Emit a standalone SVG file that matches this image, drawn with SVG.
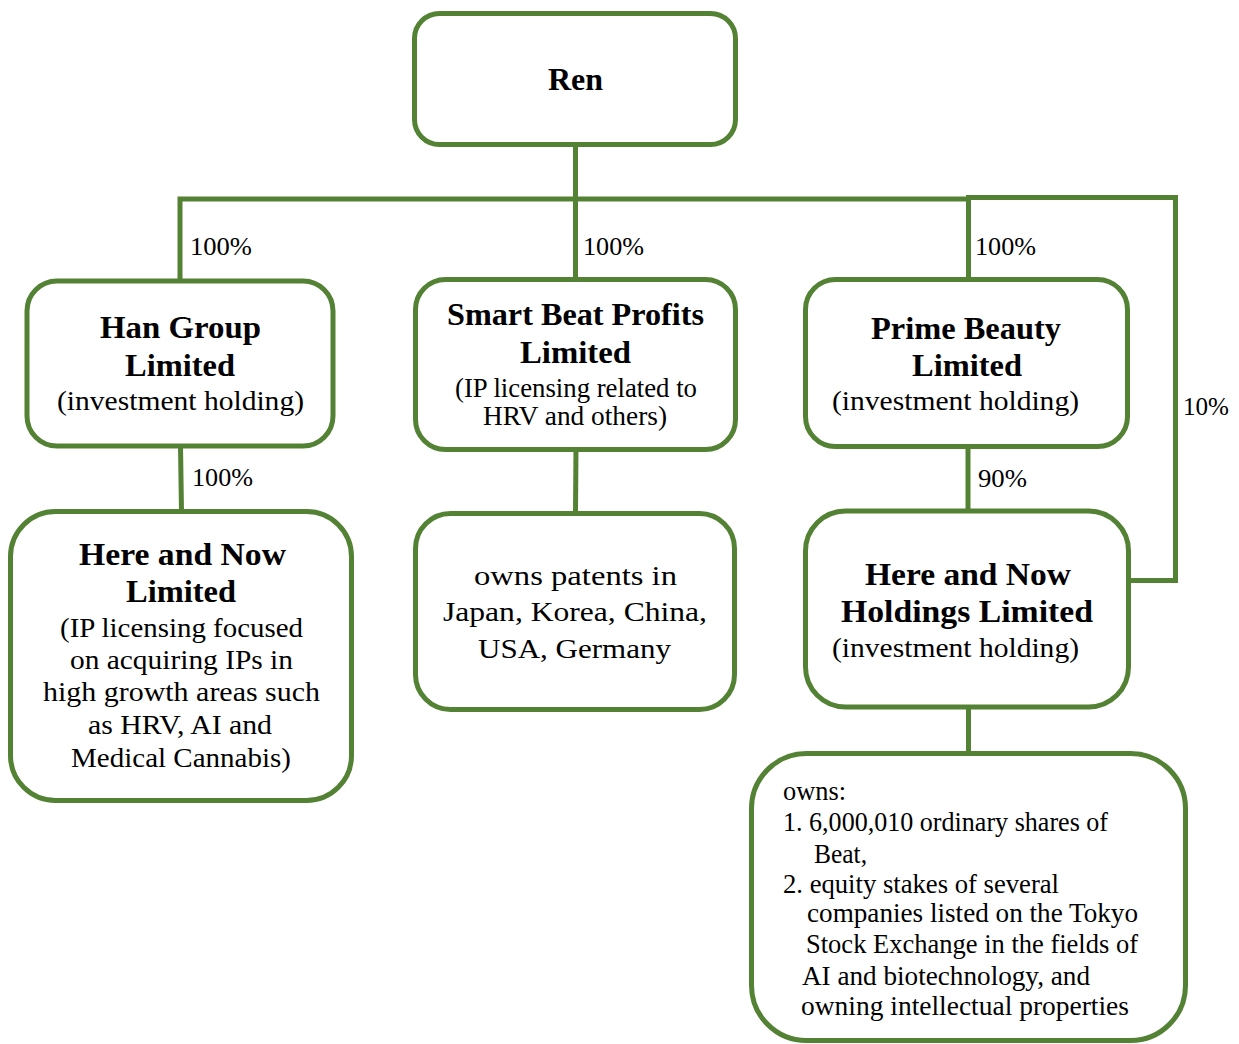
<svg xmlns="http://www.w3.org/2000/svg" width="1239" height="1044" viewBox="0 0 1239 1044">
<style>
.box{fill:#fff;stroke:#548235;stroke-width:5}
.ln{fill:none;stroke:#548235;stroke-width:5;stroke-linejoin:miter}
text{font-family:"Liberation Serif","Times New Roman",serif;fill:#000}
.b{font-weight:bold;font-size:31px}
.r{font-size:28px}
.p{font-size:26px}
.s{font-size:26.5px}
</style>
<rect width="1239" height="1044" fill="#fff"/>
<g id="connectors">
<path class="ln" d="M575.5,146 V199"/>
<path class="ln" d="M180,281 V199 H968.5 V281"/>
<path class="ln" d="M575.5,199 V280"/>
<path class="ln" d="M966,197.5 H1175.5 V580.5 H1131"/>
<path class="ln" d="M180.5,446 L181.5,512"/>
<path class="ln" d="M576,449 L575.5,513"/>
<path class="ln" d="M968,446 V511"/>
<path class="ln" d="M968.5,707 V754"/>
<text class="p" x="190" y="255" textLength="62" lengthAdjust="spacingAndGlyphs">100%</text>
<text class="p" x="583" y="255" textLength="61" lengthAdjust="spacingAndGlyphs">100%</text>
<text class="p" x="975" y="255" textLength="61" lengthAdjust="spacingAndGlyphs">100%</text>
<text class="p" x="192" y="486" textLength="61" lengthAdjust="spacingAndGlyphs">100%</text>
<text class="p" x="978" y="487" textLength="49" lengthAdjust="spacingAndGlyphs">90%</text>
<text class="p" x="1183" y="415" textLength="46" lengthAdjust="spacingAndGlyphs">10%</text>
</g>
<g id="ren">
<rect class="box" x="414.5" y="13.5" width="321" height="131" rx="25"/>
<text class="b" x="548" y="90" textLength="55" lengthAdjust="spacingAndGlyphs">Ren</text>
</g>
<g id="han-group">
<rect class="box" x="27" y="281" width="306" height="165" rx="30"/>
<text class="b" x="100" y="338" textLength="161" lengthAdjust="spacingAndGlyphs">Han Group</text>
<text class="b" x="125" y="376" textLength="110" lengthAdjust="spacingAndGlyphs">Limited</text>
<text class="r" x="57" y="410" textLength="247" lengthAdjust="spacingAndGlyphs">(investment holding)</text>
</g>
<g id="smart-beat">
<rect class="box" x="415.5" y="279.5" width="320" height="170" rx="30"/>
<text class="b" x="447" y="325" textLength="257" lengthAdjust="spacingAndGlyphs">Smart Beat Profits</text>
<text class="b" x="520" y="363" textLength="111" lengthAdjust="spacingAndGlyphs">Limited</text>
<text class="r" x="455" y="397" textLength="242" lengthAdjust="spacingAndGlyphs">(IP licensing related to</text>
<text class="r" x="483" y="425" textLength="184" lengthAdjust="spacingAndGlyphs">HRV and others)</text>
</g>
<g id="prime-beauty">
<rect class="box" x="805.5" y="279.5" width="322" height="167" rx="30"/>
<text class="b" x="871" y="339" textLength="190" lengthAdjust="spacingAndGlyphs">Prime Beauty</text>
<text class="b" x="912" y="376" textLength="110" lengthAdjust="spacingAndGlyphs">Limited</text>
<text class="r" x="832" y="410" textLength="247" lengthAdjust="spacingAndGlyphs">(investment holding)</text>
</g>
<g id="here-and-now-limited">
<rect class="box" x="10.5" y="511.5" width="341" height="289" rx="45"/>
<text class="b" x="79" y="565" textLength="207" lengthAdjust="spacingAndGlyphs">Here and Now</text>
<text class="b" x="126" y="602" textLength="110" lengthAdjust="spacingAndGlyphs">Limited</text>
<text class="r" x="60" y="637" textLength="243" lengthAdjust="spacingAndGlyphs">(IP licensing focused</text>
<text class="r" x="70" y="669" textLength="223" lengthAdjust="spacingAndGlyphs">on acquiring IPs in</text>
<text class="r" x="43" y="701" textLength="277" lengthAdjust="spacingAndGlyphs">high growth areas such</text>
<text class="r" x="88" y="734" textLength="184" lengthAdjust="spacingAndGlyphs">as HRV, AI and</text>
<text class="r" x="71" y="767" textLength="220" lengthAdjust="spacingAndGlyphs">Medical Cannabis)</text>
</g>
<g id="patents">
<rect class="box" x="415.5" y="513.5" width="319" height="196" rx="35"/>
<text class="r" x="474" y="585" textLength="203" lengthAdjust="spacingAndGlyphs">owns patents in</text>
<text class="r" x="443" y="621" textLength="264" lengthAdjust="spacingAndGlyphs">Japan, Korea, China,</text>
<text class="r" x="478" y="658" textLength="193" lengthAdjust="spacingAndGlyphs">USA, Germany</text>
</g>
<g id="here-and-now-holdings">
<rect class="box" x="805.5" y="511" width="323" height="196" rx="40"/>
<text class="b" x="865" y="585" textLength="206" lengthAdjust="spacingAndGlyphs">Here and Now</text>
<text class="b" x="841" y="622" textLength="252" lengthAdjust="spacingAndGlyphs">Holdings Limited</text>
<text class="r" x="832" y="657" textLength="247" lengthAdjust="spacingAndGlyphs">(investment holding)</text>
</g>
<g id="holdings-assets">
<rect class="box" x="751.5" y="753.5" width="434" height="287" rx="55"/>
<text class="s" x="783" y="800" textLength="63" lengthAdjust="spacingAndGlyphs">owns:</text>
<text class="s" x="783" y="831" textLength="325" lengthAdjust="spacingAndGlyphs">1. 6,000,010 ordinary shares of</text>
<text class="s" x="814" y="863" textLength="53" lengthAdjust="spacingAndGlyphs">Beat,</text>
<text class="s" x="783" y="893" textLength="276" lengthAdjust="spacingAndGlyphs">2. equity stakes of several</text>
<text class="s" x="807" y="922" textLength="331" lengthAdjust="spacingAndGlyphs">companies listed on the Tokyo</text>
<text class="s" x="806" y="953" textLength="332" lengthAdjust="spacingAndGlyphs">Stock Exchange in the fields of</text>
<text class="s" x="802" y="985" textLength="288" lengthAdjust="spacingAndGlyphs">AI and biotechnology, and</text>
<text class="s" x="801" y="1015" textLength="328" lengthAdjust="spacingAndGlyphs">owning intellectual properties</text>
</g>
</svg>
